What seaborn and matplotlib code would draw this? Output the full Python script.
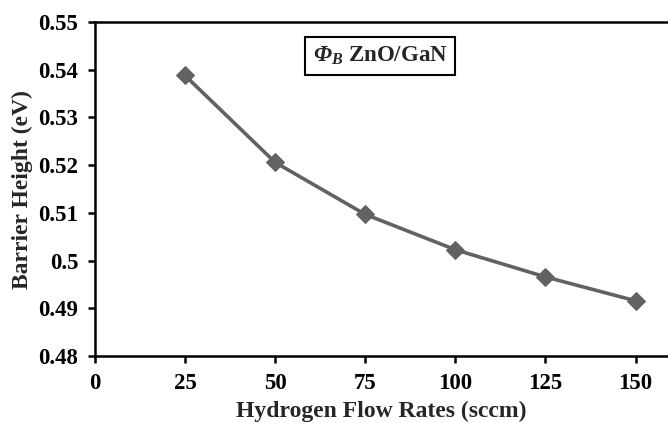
import matplotlib
matplotlib.use("Agg")
import matplotlib.pyplot as plt
import seaborn as sns
import pandas as pd

flow_rates = [25, 50, 75, 100, 125, 150]
barrier_height = [0.5388, 0.5206, 0.5097, 0.5023, 0.4966, 0.4916]
x_ticks = [0, 25, 50, 75, 100, 125, 150]
y_ticks = [0.48, 0.49, 0.50, 0.51, 0.52, 0.53, 0.54, 0.55]
y_tick_labels = ["0.48", "0.49", "0.5", "0.51", "0.52", "0.53", "0.54", "0.55"]

sns.set_theme(style="ticks")
plt.rcParams["font.family"] = ["Liberation Serif", "DejaVu Serif"]
plt.rcParams["font.weight"] = "bold"
plt.rcParams["mathtext.fontset"] = "custom"
plt.rcParams["mathtext.bfit"] = "Liberation Serif:italic:bold"
plt.rcParams["mathtext.it"] = "Liberation Serif:italic:bold"
plt.rcParams["mathtext.rm"] = "Liberation Serif:bold"

df = pd.DataFrame({"flow": flow_rates, "height": barrier_height})

fig = plt.figure(figsize=(6.68, 4.23), dpi=100)
ax = fig.add_axes([0.142, 0.158, 0.858, 0.79])

sns.lineplot(data=df, x="flow", y="height", ax=ax, color="#626262",
             linewidth=2.6, marker="D", markersize=9.5,
             markerfacecolor="#626262", markeredgecolor="#626262")

ax.set_xlim(0, 159)
ax.set_ylim(0.48, 0.55)
ax.set_xticks(x_ticks)
ax.set_yticks(y_ticks)
ax.set_yticklabels(y_tick_labels)

ax.spines["right"].set_visible(False)
for side in ["left", "bottom", "top"]:
    ax.spines[side].set_linewidth(1.8)
    ax.spines[side].set_color("black")

ax.tick_params(axis="both", direction="out", length=5, width=1.8,
               labelsize=16.5, colors="black", pad=7)
for lbl in ax.get_xticklabels() + ax.get_yticklabels():
    lbl.set_fontweight("bold")

ax.set_xlabel("Hydrogen Flow Rates (sccm)", fontsize=17, fontweight="bold",
              labelpad=5)
ax.set_ylabel("Barrier Height (eV)", fontsize=17, fontweight="bold",
              labelpad=4)

ax.text(0.38, 0.898, r"$\mathbfit{\Phi}_{\mathbfit{B}}$ ZnO/GaN",
        transform=ax.transAxes, fontsize=16.5, fontweight="bold",
        va="center", ha="left",
        bbox=dict(boxstyle="square,pad=0.33", facecolor="white",
                  edgecolor="black", linewidth=1.5))

fig.savefig("out.png", dpi=100)
